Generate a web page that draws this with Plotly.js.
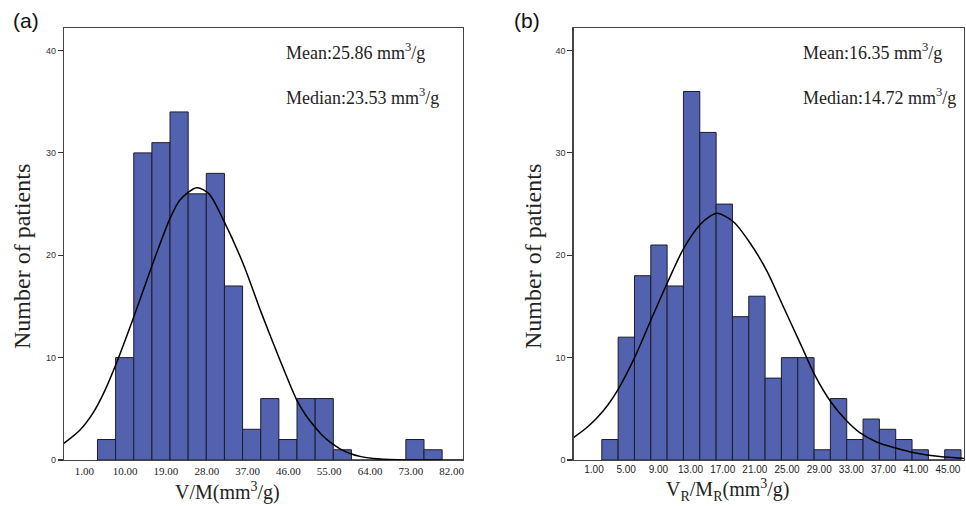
<!DOCTYPE html>
<html>
<head>
<meta charset="utf-8">
<script src="https://cdn.plot.ly/plotly-3.0.1.min.js"></script>
<style>html,body{margin:0;padding:0;background:#fff;}#chart{width:966px;height:506px;}</style>
</head>
<body>
<div id="chart"></div>
<script>
// ---- Data ----
// Panel (a): V/M histogram
const leftCounts = [2, 10, 30, 31, 34, 26, 28, 17, 3, 6, 2, 6, 6, 1, 0, 0, 0, 2, 1];
const leftBinStart = 3.9;
const leftBinWidth = 4.0;
const leftTickVals = [1, 10, 19, 28, 37, 46, 55, 64, 73, 82];
const leftTickText = ["1.00", "10.00", "19.00", "28.00", "37.00", "46.00", "55.00", "64.00", "73.00", "82.00"];
// fitted normal curve
const leftCurveX = [-3.5, 0.0, 3.0, 5.5, 7.8, 11.8, 15.9, 19.9, 22.1, 25.8, 28.5, 31.6, 36.0, 40.1, 44.2, 47.8, 49.8, 51.9, 53.5, 55.2, 57.3, 59.6, 62.0, 64.7, 70.0, 84.5];
const leftCurveY = [1.63, 2.9, 4.65, 6.75, 9.15, 13.85, 18.95, 23.6, 25.4, 26.6, 26.0, 23.5, 19.2, 14.3, 9.7, 5.9, 4.4, 3.2, 2.4, 1.75, 1.12, 0.63, 0.33, 0.15, 0.03, 0.0];

// Panel (b): VR/MR histogram
const rightCounts = [2, 12, 18, 21, 17, 36, 32, 25, 14, 16, 8, 10, 10, 1, 6, 2, 4, 3, 2, 1, 0, 1];
const rightBinStart = 1.97;
const rightBinWidth = 2.03;
const rightTickVals = [1, 5, 9, 13, 17, 21, 25, 29, 33, 37, 41, 45];
const rightTickText = ["1.00", "5.00", "9.00", "13.00", "17.00", "21.00", "25.00", "29.00", "33.00", "37.00", "41.00", "45.00"];
const rightCurveX = [-1.5, 0.0, 1.35, 2.7, 4.0, 6.1, 8.2, 10.0, 12.1, 14.2, 15.4, 16.3, 18.3, 20.4, 22.5, 24.5, 26.6, 28.5, 30.5, 32.4, 34.0, 36.2, 38.5, 41.0, 44.0, 47.0];
const rightCurveY = [2.21, 3.1, 4.1, 5.35, 6.9, 10.1, 13.9, 17.1, 20.6, 23.0, 23.8, 24.1, 23.3, 21.2, 18.45, 15.04, 11.47, 8.22, 5.62, 3.83, 2.7, 1.73, 1.17, 0.68, 0.33, 0.15];

const yTickVals = [0, 10, 20, 30, 40];

// ---- Build traces ----
function mids(start, width, n) {
  const out = [];
  for (let i = 0; i < n; i++) out.push(start + width * (i + 0.5));
  return out;
}

const barColor = '#5262ae';
const barLine = {color: '#1c1c2c', width: 1};

const traces = [
  {type: 'bar', x: mids(leftBinStart, leftBinWidth, leftCounts.length), y: leftCounts,
   width: leftBinWidth, marker: {color: barColor, line: barLine}, xaxis: 'x', yaxis: 'y'},
  {type: 'scatter', mode: 'lines', x: leftCurveX, y: leftCurveY, line: {color: '#000', width: 1.5, shape: 'spline', smoothing: 0.8},
   xaxis: 'x', yaxis: 'y'},
  {type: 'bar', x: mids(rightBinStart, rightBinWidth, rightCounts.length), y: rightCounts,
   width: rightBinWidth, marker: {color: barColor, line: barLine}, xaxis: 'x2', yaxis: 'y2'},
  {type: 'scatter', mode: 'lines', x: rightCurveX, y: rightCurveY, line: {color: '#000', width: 1.5, shape: 'spline', smoothing: 0.8},
   xaxis: 'x2', yaxis: 'y2'}
];

const W = 966, H = 506;
const px = v => v / W;
const py = v => 1 - v / H;

const serif = '"Liberation Serif", "Times New Roman", serif';
const sans = '"Liberation Sans", Arial, sans-serif';

const yAxisBase = {
  range: [0, 42.2], tickvals: yTickVals, ticks: 'outside', ticklen: 5, tickwidth: 1.2, tickcolor: '#333',
  tickfont: {family: sans, size: 9, color: '#333'}, showgrid: false, zeroline: false,
  showline: true, linecolor: '#444', linewidth: 1.3, mirror: true, fixedrange: true
};

function ann(text, x, y, font, extra) {
  return Object.assign({text: text, xref: 'paper', yref: 'paper', x: px(x), y: py(y),
    xanchor: 'left', yanchor: 'middle', showarrow: false, font: font}, extra || {});
}
const statFont = {family: serif, size: 18, color: '#222'};
const titleFont = {family: serif, size: 20, color: '#222'};
const yTitleFont = {family: serif, size: 24, color: '#222'};
const panelFont = {family: sans, size: 21, color: '#111'};

const layout = {
  width: W, height: H,
  margin: {l: 0, r: 0, t: 0, b: 0},
  paper_bgcolor: '#fff', plot_bgcolor: '#fff',
  showlegend: false, bargap: 0,
  xaxis: {
    domain: [px(64), px(463)], range: [-3.48, 84.5], anchor: 'y',
    tickvals: leftTickVals, ticktext: leftTickText, ticks: '', ticklen: 0,
    tickfont: {family: serif, size: 11, color: '#222'}, showgrid: false, zeroline: false,
    showline: true, linecolor: '#444', linewidth: 1.3, mirror: true
  },
  yaxis: Object.assign({}, yAxisBase, {domain: [py(460), py(28)], anchor: 'x'}),
  xaxis2: {
    domain: [px(573.5), px(964)], range: [-1.55, 47.0], anchor: 'y2',
    tickvals: rightTickVals, ticktext: rightTickText, ticks: '', ticklen: 0,
    tickfont: {family: sans, size: 10, color: '#222'}, showgrid: false, zeroline: false,
    showline: true, linecolor: '#444', linewidth: 1.3, mirror: true
  },
  yaxis2: Object.assign({}, yAxisBase, {domain: [py(460), py(28)], anchor: 'x2'}),
  annotations: [
    ann('(a)', 11, 21, panelFont),
    ann('(b)', 512, 21, panelFont),
    ann('Mean:25.86 mm<sup>3</sup>/g', 284, 52, statFont),
    ann('Median:23.53 mm<sup>3</sup>/g', 284, 96, statFont),
    ann('Mean:16.35 mm<sup>3</sup>/g', 801, 52, statFont),
    ann('Median:14.72 mm<sup>3</sup>/g', 801, 96, statFont),
    ann('V/M(mm<sup>3</sup>/g)', 227, 491, titleFont, {xanchor: 'center'}),
    ann('V<sub>R</sub>/M<sub>R</sub>(mm<sup>3</sup>/g)', 727, 490, titleFont, {xanchor: 'center'}),
    ann('Number of patients', 22, 257, yTitleFont, {xanchor: 'center', textangle: -90}),
    ann('Number of patients', 533, 257, yTitleFont, {xanchor: 'center', textangle: -90})
  ]
};

Plotly.newPlot('chart', traces, layout, {staticPlot: true, displayModeBar: false});
</script>
</body>
</html>
